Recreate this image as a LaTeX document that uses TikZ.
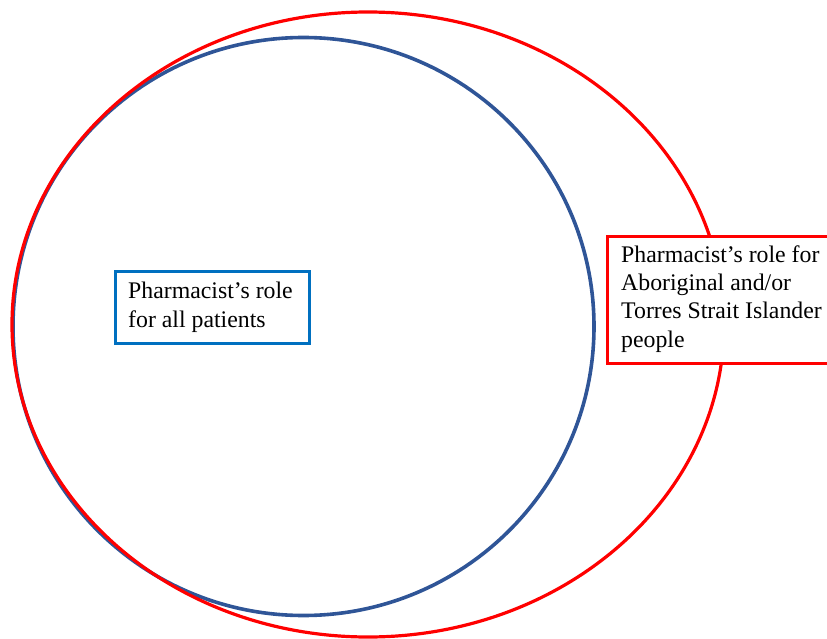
\documentclass[tikz,border=0pt]{standalone}
\usepackage{fontspec}
\setmainfont{Liberation Serif}
\usetikzlibrary{shapes.geometric}
\definecolor{circblue}{HTML}{2F5597}
\definecolor{boxblue}{HTML}{0070C0}
\definecolor{redline}{HTML}{FF0000}
\tikzset{
  boxtext/.style={anchor=base west, align=left, inner sep=0pt, font=\fontsize{23.8}{28.2}\selectfont},
  frame/.style={anchor=north west, fill=white, inner sep=0pt, outer sep=0pt, line width=3pt},
}
\begin{document}
\begin{tikzpicture}[x=1pt,y=-1pt]
\useasboundingbox (0,0) rectangle (827,639);
\clip (0,0) rectangle (827,639);
\node[draw=circblue, line width=3.6pt, ellipse, minimum width=581, minimum height=578, inner sep=0pt] (allc) at (303.5,326.5) {};
\draw[redline, line width=3.2pt] (368,324.5) ellipse [x radius=356, y radius=312.5];
\node[frame, draw=boxblue, minimum width=194, minimum height=72] (bbox) at (115.5,271.5) {};
\node[boxtext] (btext) at (128,327) {Pharmacist’s role\\for all patients};
\node[frame, draw=redline, minimum width=240, minimum height=127] (rbox) at (607.5,236) {};
\node[boxtext] (rtext) at (621,347) {Pharmacist’s role for\\Aboriginal and/or\\Torres Strait Islander\\people};
\end{tikzpicture}
\end{document}
